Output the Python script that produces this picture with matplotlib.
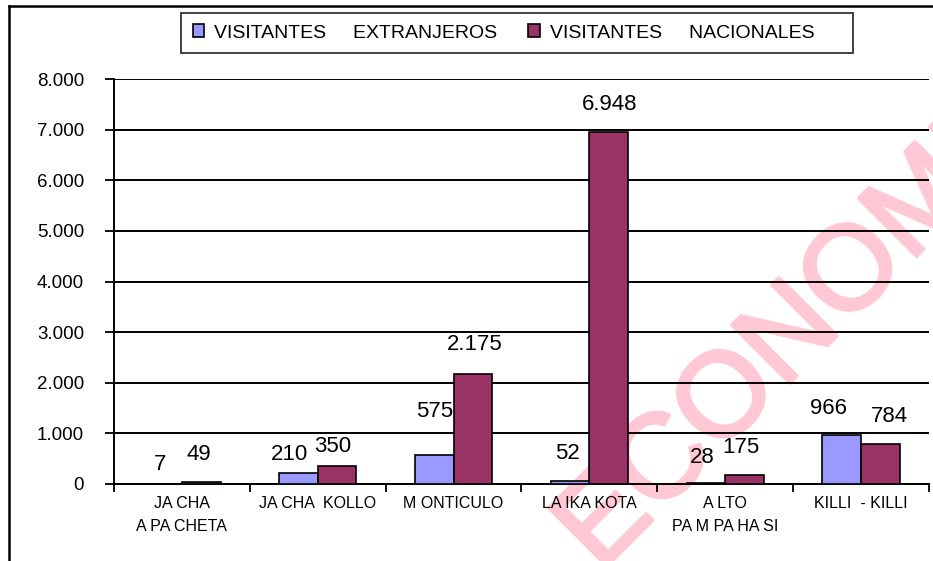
import matplotlib
matplotlib.use("Agg")
import matplotlib.pyplot as plt
import matplotlib.patheffects as pe
from matplotlib.lines import Line2D
from matplotlib.ticker import FuncFormatter, FixedLocator
import numpy as np

plt.rcParams['font.family'] = ['Liberation Sans', 'DejaVu Sans']

categories = ["JA CHA\nA PA CHETA", "JA CHA  KOLLO", "M ONTICULO", "LA IKA KOTA",
              "A LTO\nPA M PA HA SI", "KILLI  - KILLI"]
extranjeros = [7, 210, 575, 52, 28, 966]
nacionales = [49, 350, 2175, 6948, 175, 784]
series_names = ["VISITANTES     EXTRANJEROS", "VISITANTES     NACIONALES     "]
watermark = "ECONOMIA"

# label offsets (pixels) relative to bar top-center
off_ext = [(-2, 19), (-9, 19), (0, 43), (-3, 28), (-4, 25), (-13, 27)]
off_nac = [(-2, 27), (-4, 20), (2, 29), (1, 28), (-4, 28), (9, 28)]

W, H = 933, 561
fig = plt.figure(figsize=(W / 100, H / 100), dpi=100)
fig.patch.set_facecolor('white')

ax = fig.add_axes([114 / W, 1 - 484 / H, (929 - 114) / W, (484 - 79) / H])
ax.set_facecolor('none')
ax.set_zorder(1)

def fmt(v):
    return f"{int(v):,}".replace(",", ".")

x = np.arange(len(categories))
bw = 0.285
b1 = ax.bar(x - bw / 2, extranjeros, bw, color='#9999FF', edgecolor='black', linewidth=1.2,
            label=series_names[0], zorder=3)
b2 = ax.bar(x + bw / 2, nacionales, bw, color='#993366', edgecolor='black', linewidth=1.2,
            label=series_names[1], zorder=3)

for i, v in enumerate(extranjeros):
    ax.annotate(fmt(v), (x[i] - bw / 2, v), xytext=off_ext[i], textcoords='offset pixels',
                ha='center', va='center', fontsize=16, color='black', zorder=4)
for i, v in enumerate(nacionales):
    ax.annotate(fmt(v), (x[i] + bw / 2, v), xytext=off_nac[i], textcoords='offset pixels',
                ha='center', va='center', fontsize=16, color='black', zorder=4)

ax.set_xlim(-0.5, len(categories) - 0.5)
ax.set_ylim(0, 8000)
ax.set_yticks(np.arange(0, 8001, 1000))
ax.yaxis.set_major_formatter(FuncFormatter(lambda v, p: fmt(v)))
ax.yaxis.grid(True, color='black', linewidth=1.4, zorder=0)
ax.set_axisbelow(True)

ax.set_xticks(x)
ax.set_xticklabels(categories, fontsize=11.5, linespacing=1.6)
ax.xaxis.set_minor_locator(FixedLocator(np.arange(-0.5, len(categories), 1)))
ax.tick_params(axis='x', which='major', length=0, pad=9)
ax.tick_params(axis='x', which='minor', length=6, width=1.3, direction='out')
ax.tick_params(axis='y', length=6.5, width=1.3, pad=15, labelsize=13.5)

for s in ['top', 'right']:
    ax.spines[s].set_visible(False)
for s in ['left', 'bottom']:
    ax.spines[s].set_linewidth(1.4)
    ax.spines[s].set_color('black')

leg = fig.legend(handles=[b1, b2], loc='center', bbox_to_anchor=(517 / W, 1 - 33 / H),
                 ncol=2, fontsize=14, frameon=True, fancybox=False, shadow=False,
                 handlelength=0.6, handleheight=0.6, handletextpad=0.5,
                 columnspacing=1.6, borderpad=0.6)
leg.get_frame().set_edgecolor('black')
leg.get_frame().set_linewidth(1.3)
leg.set_zorder(5)

# watermark
wm_color = '#FFC8D4'
fig.text(600 / W, 1 - 573 / H, watermark, rotation=45, rotation_mode='anchor',
         ha='left', va='baseline', fontsize=86, color=wm_color, zorder=0.5,
         path_effects=[pe.withStroke(linewidth=2.5, foreground=wm_color)])

# figure border lines (left & top)
fig.add_artist(Line2D([9 / W, 9 / W], [0, 1 - 6 / H], color='black', linewidth=1.8,
                      transform=fig.transFigure))
fig.add_artist(Line2D([9 / W, 1], [1 - 6 / H, 1 - 6 / H], color='black', linewidth=1.8,
                      transform=fig.transFigure))

fig.savefig('out.png', dpi=100)
